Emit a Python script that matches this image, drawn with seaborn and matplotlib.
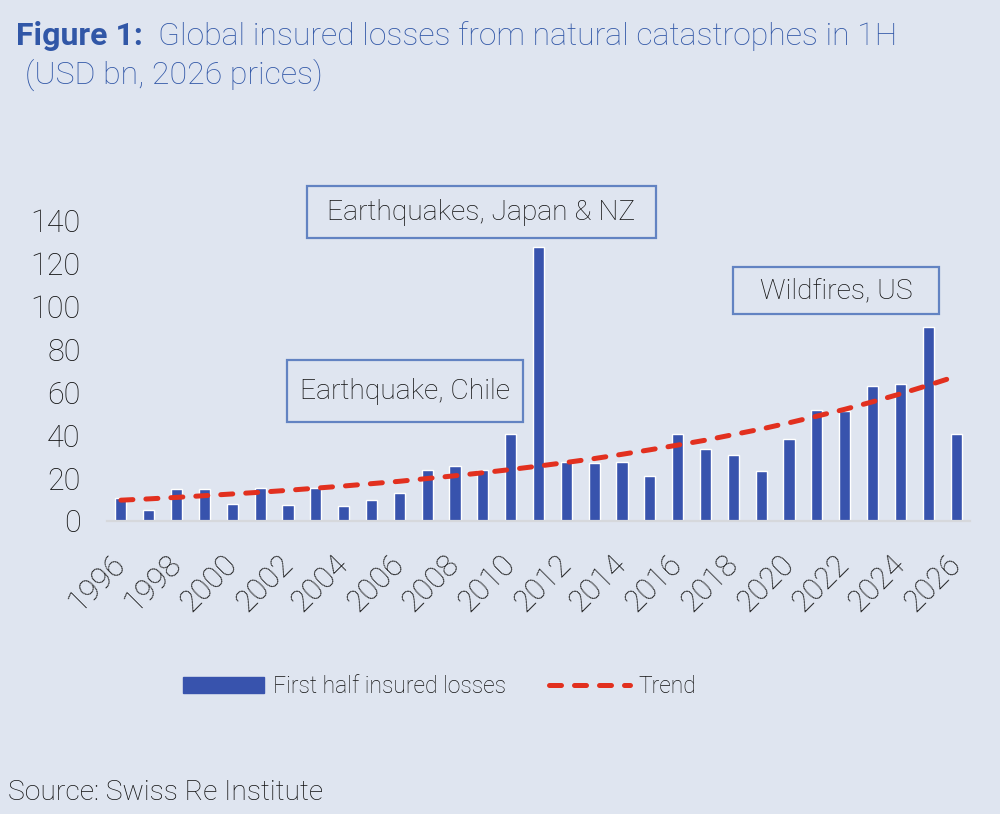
import matplotlib
matplotlib.use("Agg")
import matplotlib.pyplot as plt
import seaborn as sns
import numpy as np
import pandas as pd
from matplotlib.patches import Patch, Rectangle
from matplotlib.lines import Line2D

# values (USD bn, 2026 prices)
years = list(range(1996, 2027))
losses = [10.5, 5.0, 15.1, 15.0, 7.8, 15.5, 7.5, 15.6, 6.9, 10.0,
          13.1, 24.0, 25.7, 23.7, 40.8, 128.0, 27.6, 27.2, 27.5, 21.0,
          40.5, 33.6, 31.0, 23.2, 38.2, 51.8, 51.4, 63.0, 64.0, 90.7,
          40.5]
trend = [9.7, 10.3, 11.0, 11.8, 12.6, 13.4, 14.3, 15.3, 16.3, 17.4,
         18.5, 19.8, 21.1, 22.5, 24.0, 25.6, 27.3, 29.1, 31.1, 33.2,
         35.4, 37.7, 40.3, 42.9, 45.8, 48.9, 52.1, 55.6, 59.3, 63.3,
         67.5]
tick_years = years[::2]

bg = "#dfe5f0"
bar_col = "#3853ad"
red = "#e2301f"
blue_title = "#3157a7"
box_col = "#6283c2"
txt_col = "#111111"

sns.set_theme(style="white")
plt.rcParams["font.family"] = ["Roboto", "DejaVu Sans"]
plt.rcParams["font.weight"] = "light"

df = pd.DataFrame({"year": years, "loss": losses, "trend": trend})
df["pos"] = np.arange(len(df))

fig = plt.figure(figsize=(10, 8.14), dpi=100, facecolor=bg)
W, H = 1000, 814
ax = fig.add_axes([0.107, 0.36, 0.863, 0.3686])
ax.set_facecolor(bg)

sns.barplot(data=df, x="year", y="loss", color=bar_col, saturation=1,
            width=0.4, ax=ax)
sns.lineplot(data=df, x="pos", y="trend", color=red, lw=3.6, ax=ax)
line = ax.lines[-1]
line.set_dashes((2.4, 2.6))
line.set_dash_capstyle("round")

ax.set_xlim(-0.5, len(years) - 0.5)
ax.set_ylim(0, 140)
ax.set_yticks(range(0, 141, 20))
ax.set_xticks(range(0, len(years), 2))
ax.set_xticklabels(tick_years, rotation=45, ha="right", va="center",
                   rotation_mode="anchor")
ax.tick_params(axis="y", length=0, pad=19, labelsize=22, labelcolor=txt_col)
ax.tick_params(axis="x", length=0, pad=28, labelsize=22, labelcolor=txt_col)
ax.set_xlabel("")
ax.set_ylabel("")
for s in ["top", "right", "left"]:
    ax.spines[s].set_visible(False)
ax.spines["bottom"].set_color("#d6d8dc")
ax.spines["bottom"].set_linewidth(1.6)


# event boxes, given in pixels of the 1000x814 canvas
def event_box(x0, x1, y0, y1, text):
    fig.patches.append(Rectangle((x0 / W, 1 - y1 / H), (x1 - x0) / W,
                                 (y1 - y0) / H, transform=fig.transFigure,
                                 fc=bg, ec=box_col, lw=1.6, zorder=3))
    fig.text((x0 + x1) / 2 / W, 1 - (y0 + y1) / 2 / H, text, ha="center",
             va="center", fontsize=20.3, color=txt_col, zorder=4)


event_box(307, 656, 186, 238, "Earthquakes, Japan & NZ")
event_box(733, 939, 267, 314, "Wildfires, US")
event_box(287, 523, 360, 422, "Earthquake, Chile")

# title
fig.text(0.016, 0.9447, "Figure 1:", fontsize=23, fontweight="bold",
         color=blue_title, va="baseline")
fig.text(0.158, 0.9447, "Global insured losses from natural catastrophes in 1H",
         fontsize=23, color=blue_title, va="baseline")
fig.text(0.025, 0.8977, "(USD bn, 2026 prices)", fontsize=23,
         color=blue_title, va="baseline")

handles = [Patch(facecolor=bar_col, edgecolor=bar_col),
           Line2D([0], [0], color=red, lw=3.6, dashes=(2.4, 2.6),
                  dash_capstyle="round")]
leg = fig.legend(handles, ["First half insured losses", "Trend"],
                 loc="center", bbox_to_anchor=(0.44, 0.157), ncol=2,
                 frameon=False, handlelength=3.5, handleheight=0.68,
                 handletextpad=0.4, columnspacing=1.9,
                 prop={"size": 16.5, "weight": "light"})
for t in leg.get_texts():
    t.set_color(txt_col)

fig.text(0.008, 0.026, "Source: Swiss Re Institute", fontsize=20.3,
         color=txt_col, va="center")

fig.savefig("out.png", dpi=100, facecolor=bg)
